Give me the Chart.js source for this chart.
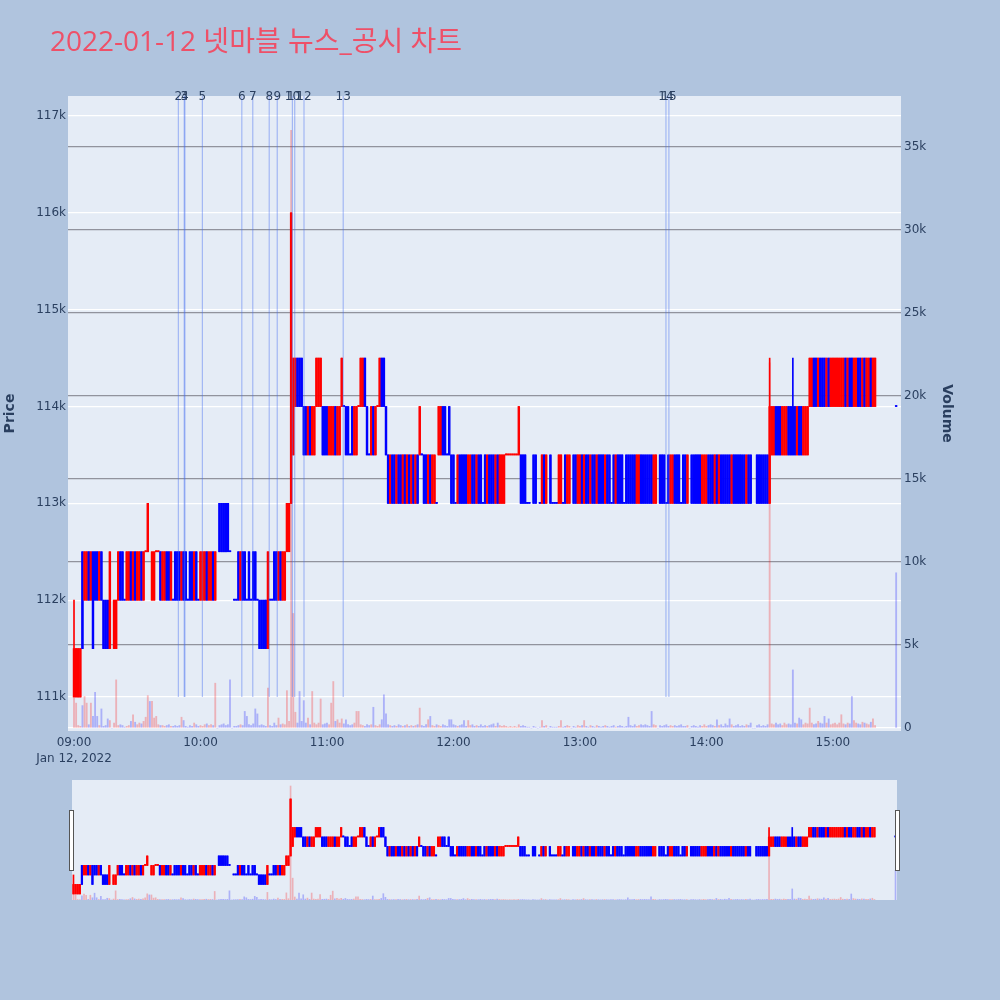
<!DOCTYPE html>
<html>
<head>
<meta charset="utf-8">
<script src="https://cdn.jsdelivr.net/npm/chart.js@4.4.0/dist/chart.umd.min.js"></script>
<style>
  body { margin: 0; width: 1000px; height: 1000px; background: #b0c4de; position: relative; overflow: hidden; }
  #title { position: absolute; left: 50px; top: 21px; line-height: 38px; font-size: 28px; color: #ee5068;
           font-family: "Open Sans", "Noto Sans CJK KR", sans-serif; white-space: nowrap; }
  #main-wrap { position: absolute; left: 0; top: 0; width: 1000px; height: 780px; }
  #slider-wrap { position: absolute; left: 72px; top: 780px; width: 825px; height: 120px; }
  .handle { position: absolute; top: 810px; width: 3px; height: 59px; background: #fff; border: 1px solid #555; }
</style>
</head>
<body>
<div id="main-wrap"><canvas id="mainChart"></canvas></div>
<div id="slider-wrap"><canvas id="sliderChart"></canvas></div>
<div class="handle" style="left:69px"></div>
<div class="handle" style="left:895px"></div>
<div id="title">2022-01-12 넷마블 뉴스_공시 차트</div>
<script>
const FONT = '"DejaVu Sans", Verdana, sans-serif';
const INK = '#2a3f5f';

// x axis = minutes after 09:00
const hourTicks = [0, 60, 120, 180, 240, 300, 360];
const hourLabels = ['09:00', '10:00', '11:00', '12:00', '13:00', '14:00', '15:00'];
const dateLabel = 'Jan 12, 2022';
const priceTicks = [111, 112, 113, 114, 115, 116, 117]; // thousand won
const volumeTicks = [0, 5000, 10000, 15000, 20000, 25000, 30000, 35000];

// news / disclosure markers
const newsMinutes = [49.5, 52.3, 52.6, 60.9, 79.6, 84.8, 92.6, 96.4, 103.6, 104.7, 109.1, 127.7, 280.8, 282.2];
const newsLabels = ['2', '3', '4', '5', '6', '7', '8', '9', '10', '11', '12', '13', '14', '15'];

// one candle per minute, 09:00 .. 15:30 (k won)
const opens = [
  111,111,111,111,112.5,112,112,112.5,112,112.5,
  112.5,112.5,112,112.5,112,112,112,111.5,null,111.5,
  111.5,112,112.5,112.5,112,112,112,112.5,112,112.5,
  112,112,112.5,112,112.5,112.5,null,112,112,112.5,
  112.5,112.5,112,112,112.5,112.5,112,112,112.5,112.5,
  112.5,112,112.5,112.5,112,112.5,112.5,112,112.5,112,
  112,112,112,112.5,112,112,112.5,112,null,113,
  113,113,113,113,112.5,null,112,112,112.5,112,
  112.5,112.5,112,112.5,112,112.5,112.5,112,112,112,
  112,112,111.5,112,112,112.5,112.5,112,112.5,112,
  112,112.5,112.5,113,113.5,114,114.5,114.5,114.5,114,
  114,113.5,114,113.5,113.5,114,114,114,114,114,
  114,113.5,113.5,113.5,114,113.5,113.5,114,114,114,
  114,113.5,114,113.5,113.5,114,114,114,114.5,114,
  113.5,113.5,114,113.5,114,114,114.5,114.5,114,113.5,
  113,113.5,113.5,113,113.5,113.5,113,113.5,113,113.5,
  113,113.5,113,113.5,113.5,113.5,113.5,113.5,113,113.5,
  113,113,113,113.5,113.5,114,114,113.5,114,113.5,
  113.5,113,113,113.5,113.5,113.5,113.5,113,113,113.5,
  113.5,113,113.5,113.5,113,113.5,113,113.5,113.5,113.5,
  113,113.5,113,113,113,113.5,113.5,113.5,113.5,113.5,
  113.5,113.5,113.5,113.5,113.5,113,113,null,113.5,113.5,
  null,113,113,113.5,113,null,113.5,113,113,113,
  113,113,113,113.5,113,113,null,113.5,113.5,113,
  113,113.5,113,113.5,113.5,113,113.5,113.5,113,113.5,
  113.5,113.5,113,113.5,113.5,113,113.5,113,113.5,113.5,
  113.5,113,113.5,113.5,113.5,113.5,113.5,113,113,113.5,
  113.5,113.5,113.5,113.5,113.5,113,113,null,113.5,113.5,
  113.5,113,113.5,113,113,113.5,113.5,113.5,113,113.5,
  113.5,113,null,113.5,113.5,113.5,113.5,113.5,113,113,
  113,113.5,113.5,113.5,113,113.5,113,113.5,113.5,113.5,
  113.5,113.5,113,113.5,113.5,113.5,113.5,113.5,113.5,113,
  113.5,113.5,null,null,113.5,113.5,113.5,113.5,113.5,113.5,
  113,113.5,113.5,114,114,114,113.5,113.5,113.5,114,
  114,114,114,113.5,114,114,113.5,113.5,113.5,114,
  114,114.5,114.5,114,114.5,114.5,114.5,114,114.5,114,
  114,114,114,114,114,114,114.5,114,114.5,114.5,
  114,114,114.5,114.5,114,114.5,114,114,114.5,114,
  114,null,null,null,null,null,null,null,null,null,
  114
];
const closes = [
  111.5,111.5,111.5,111.5,111.5,112.5,112.5,112,112.5,111.5,
  112,112,112.5,112,111.5,111.5,111.5,112.5,null,112,
  112,112.5,112,112,112,112.5,112.5,112,112.5,112,
  112.5,112.5,112,112.5,112.5,113,null,112.5,112.5,112.5,
  112.5,112,112.5,112.5,112,112,112.5,112,112,112,
  112,112.5,112,112,112,112,112,112.5,112,112,
  112.5,112.5,112.5,112,112.5,112.5,112,112.5,null,112.5,
  112.5,112.5,112.5,112.5,112.5,null,112,112,112,112.5,
  112,112,112,112,112,112,112,112,111.5,111.5,
  111.5,111.5,112.5,112,112,112,112,112.5,112,112.5,
  112.5,113,113,116,114.5,114.5,114,114,114,113.5,
  113.5,114,113.5,114,114,114.5,114.5,114.5,113.5,113.5,
  113.5,114,114,114,113.5,114,114,114.5,114,113.5,
  113.5,113.5,113.5,114,114,114,114.5,114.5,114,113.5,
  113.5,114,113.5,114,114,114.5,114,114,113.5,113,
  113.5,113,113,113.5,113,113,113.5,113,113.5,113,
  113.5,113,113.5,113,114,113.5,113,113,113.5,113,
  113.5,113.5,113,114,114,113.5,113.5,113.5,113.5,113,
  113,113,113.5,113,113,113,113,113.5,113.5,113,
  113,113.5,113,113,113,113,113.5,113,113,113,
  113.5,113,113.5,113.5,113.5,113.5,113.5,113.5,113.5,113.5,
  113.5,114,113,113,113,113,113,null,113,113,
  null,113,113.5,113,113.5,null,113,113,113,113,
  113.5,113.5,113,113,113.5,113.5,null,113,113,113.5,
  113.5,113,113.5,113,113,113.5,113,113,113.5,113,
  113,113,113.5,113,113,113,113,113.5,113,113,
  113,113,113,113,113,113,113,113.5,113.5,113,
  113,113,113,113,113,113.5,113.5,null,113,113,
  113,113,113,113.5,113.5,113,113,113,113,113,
  113,113.5,null,113,113,113,113,113,113.5,113.5,
  113.5,113,113,113,113.5,113,113.5,113,113,113,
  113,113,113.5,113,113,113,113,113,113,113.5,
  113,113,null,null,113,113,113,113,113,113,
  114,114,114,113.5,113.5,113.5,114,114,114,113.5,
  113.5,113.5,113.5,114,113.5,113.5,114,114,114,114.5,
  114.5,114,114,114.5,114,114,114,114.5,114,114.5,
  114.5,114.5,114.5,114.5,114.5,114.5,114,114.5,114,114,
  114.5,114.5,114,114,114.5,114,114.5,114.5,114,114.5,
  114.5,null,null,null,null,null,null,null,null,null,
  114
];
// [minute, low, high] where the wick goes past the body
const wickExtras = [[0, 111, 112], [330, 113, 114.5], [341, 113.5, 114.5]];

const volumes = [
  1800,1500,150,100,1350,1900,1500,200,1500,700,
  2150,700,150,1150,100,150,550,450,0,300,
  2900,150,200,150,50,100,150,400,800,350,
  200,300,250,400,650,1950,1600,1600,600,700,
  200,150,150,100,150,200,100,100,150,100,
  150,650,450,100,50,150,100,300,200,100,
  150,100,200,250,150,200,150,2700,0,150,
  200,250,150,200,2900,0,100,100,150,200,
  150,1000,700,200,150,250,1150,850,150,200,
  150,100,2400,150,100,300,150,600,200,250,
  200,2250,400,36000,6900,950,300,2200,400,1650,
  300,600,200,2200,300,200,300,1750,200,250,
  300,200,1500,2800,400,500,300,550,250,500,
  200,150,200,300,1000,1000,200,150,100,200,
  150,200,1250,150,100,200,500,2000,850,200,
  150,100,150,100,200,150,100,150,200,100,
  150,100,150,200,1200,150,100,200,500,700,
  150,100,200,150,100,200,150,100,500,500,
  200,150,100,150,200,450,100,450,150,200,
  100,150,100,200,100,150,100,150,200,250,
  100,300,150,100,150,100,50,100,50,100,
  50,200,100,150,100,50,50,0,100,50,
  0,50,450,100,150,0,100,50,50,50,
  100,450,50,100,150,100,0,100,50,150,
  100,150,450,100,50,150,100,50,150,100,
  50,100,150,100,50,100,150,50,100,150,
  100,50,100,650,150,100,200,100,150,200,
  150,200,150,100,1000,200,150,0,150,100,
  150,200,100,150,100,150,100,150,200,100,
  100,150,0,100,150,100,50,150,100,200,
  100,150,200,150,100,500,150,200,100,250,
  150,550,200,100,150,200,100,150,100,200,
  150,300,0,0,150,200,100,150,100,200,
  22000,250,200,300,200,250,150,300,200,250,
  200,3500,300,250,600,500,200,300,250,1200,
  300,200,250,400,300,250,700,300,550,200,
  250,300,200,300,800,250,200,300,250,1900,
  450,300,250,200,350,300,250,200,350,550,
  150,null,null,null,null,null,null,null,null,null,
  9350
];

// candle direction; an unchanged candle follows the previous close (plotly rule)
const rising = [];
let prevClose = null, prevUp = true;
opens.forEach((o, i) => {
  const c = closes[i];
  if (o === null) { rising.push(null); return; }
  let up;
  if (c > o) up = true;
  else if (c < o) up = false;
  else up = (prevClose === null || c === prevClose) ? prevUp : c > prevClose;
  rising.push(up);
  prevClose = c;
  prevUp = up;
});

function buildDatasets(bodyW, wickW, volW, volAlpha) {
  const body = [], bodyCol = [], wick = [], vol = [], volCol = [];
  opens.forEach((o, i) => {
    if (o === null) return;
    const c = closes[i];
    const col = rising[i] ? '#ff0000' : '#0000ff';
    let lo = Math.min(o, c), hi = Math.max(o, c);
    const extra = wickExtras.find(w => w[0] === i);
    if (extra) { lo = Math.min(lo, extra[1]); hi = Math.max(hi, extra[2]); }
    body.push({ x: i, y: [Math.min(o, c), Math.max(o, c)] });
    wick.push({ x: i, y: [lo, hi] });
    bodyCol.push(col);
  });
  volumes.forEach((v, i) => {
    if (v === null) return;
    vol.push({ x: i, y: v });
    volCol.push(rising[i] ? `rgba(255,0,0,${volAlpha})` : `rgba(0,0,255,${volAlpha})`);
  });
  return [
    { data: vol, yAxisID: 'yv', backgroundColor: volCol, barThickness: volW, grouped: false, order: 3 },
    { data: wick, yAxisID: 'y', backgroundColor: bodyCol, barThickness: wickW, grouped: false, minBarLength: 1, order: 2 },
    { data: body, yAxisID: 'y', backgroundColor: bodyCol, barThickness: bodyW, grouped: false, minBarLength: 1, order: 1 },
  ];
}

const plotBg = {
  id: 'plotBg',
  beforeDraw(chart) {
    const { ctx, chartArea: a } = chart;
    ctx.save();
    ctx.fillStyle = '#e5ecf6';
    ctx.fillRect(a.left, a.top, a.right - a.left, a.bottom - a.top);
    ctx.restore();
  },
};

const newsLines = {
  id: 'newsLines',
  afterDatasetsDraw(chart) {
    const { ctx, chartArea, scales } = chart;
    const yBottom = scales.y.getPixelForValue(111);
    ctx.save();
    ctx.strokeStyle = 'rgba(70,110,240,0.42)';
    ctx.lineWidth = 1.2;
    newsMinutes.forEach(m => {
      const px = scales.x.getPixelForValue(m);
      ctx.beginPath();
      ctx.moveTo(px, chartArea.top);
      ctx.lineTo(px, yBottom);
      ctx.stroke();
    });
    ctx.fillStyle = INK;
    ctx.font = `12px ${FONT}`;
    ctx.textAlign = 'center';
    ctx.textBaseline = 'middle';
    newsMinutes.forEach((m, i) => {
      ctx.fillText(newsLabels[i], scales.x.getPixelForValue(m), chartArea.top + 1);
    });
    ctx.restore();
  },
};

const tickFont = { family: FONT, size: 12, lineHeight: 1.35 };
const axisTitleFont = { family: FONT, size: 14, weight: 'bold' };

new Chart(document.getElementById('mainChart'), {
  type: 'bar',
  data: { datasets: buildDatasets(1.8, 1, 1.2, 0.25) },
  options: {
    responsive: true,
    maintainAspectRatio: false,
    animation: false,
    layout: { padding: { top: 96, right: 45, left: 0, bottom: 0 } },
    plugins: { legend: { display: false }, tooltip: { enabled: false } },
    scales: {
      x: {
        type: 'linear',
        min: -2.85,
        max: 392.3,
        offset: false,
        grid: { display: false },
        border: { display: false },
        afterBuildTicks: s => { s.ticks = hourTicks.map(v => ({ value: v })); },
        afterFit: s => { s.height = 49; },
        ticks: {
          autoSkip: false,
          maxRotation: 0,
          padding: -4,
          color: INK,
          font: tickFont,
          callback: v => v === 0 ? [hourLabels[0], dateLabel] : hourLabels[hourTicks.indexOf(v)],
        },
      },
      y: {
        position: 'left',
        min: 110.649,
        max: 117.207,
        grid: { color: '#ffffff', lineWidth: 1.2, drawTicks: false },
        border: { display: false },
        afterBuildTicks: s => { s.ticks = priceTicks.map(v => ({ value: v })); },
        afterFit: s => { s.width = 68; },
        ticks: { color: INK, font: { family: FONT, size: 12 }, padding: 2, callback: v => v + 'k' },
        title: { display: true, text: 'Price', color: INK, font: axisTitleFont, padding: { top: 2, bottom: 0 } },
      },
      yv: {
        position: 'right',
        min: -180,
        max: 38070,
        grid: {
          color: c => c.tick && c.tick.value === 0 ? '#ffffff' : 'rgba(110,110,120,0.7)',
          lineWidth: 1.2,
          drawTicks: false,
        },
        border: { display: false },
        afterBuildTicks: s => { s.ticks = volumeTicks.map(v => ({ value: v })); },
        afterFit: s => { s.width = 54; },
        ticks: { color: INK, font: { family: FONT, size: 12 }, padding: 3, callback: v => v === 0 ? '0' : (v / 1000) + 'k' },
        title: { display: true, text: 'Volume', color: INK, font: axisTitleFont, padding: 0 },
      },
    },
  },
  plugins: [plotBg, newsLines],
});

new Chart(document.getElementById('sliderChart'), {
  type: 'bar',
  data: { datasets: buildDatasets(1.6, 1, 1, 0.25) },
  options: {
    responsive: true,
    maintainAspectRatio: false,
    animation: false,
    layout: { padding: 0 },
    plugins: { legend: { display: false }, tooltip: { enabled: false } },
    scales: {
      x: { type: 'linear', min: -0.7, max: 390.7, offset: false, display: false },
      y: { min: 110.68, max: 117.0, display: false },
      yv: { min: 0, max: 37900, display: false },
    },
  },
  plugins: [plotBg],
});
</script>
</body>
</html>
